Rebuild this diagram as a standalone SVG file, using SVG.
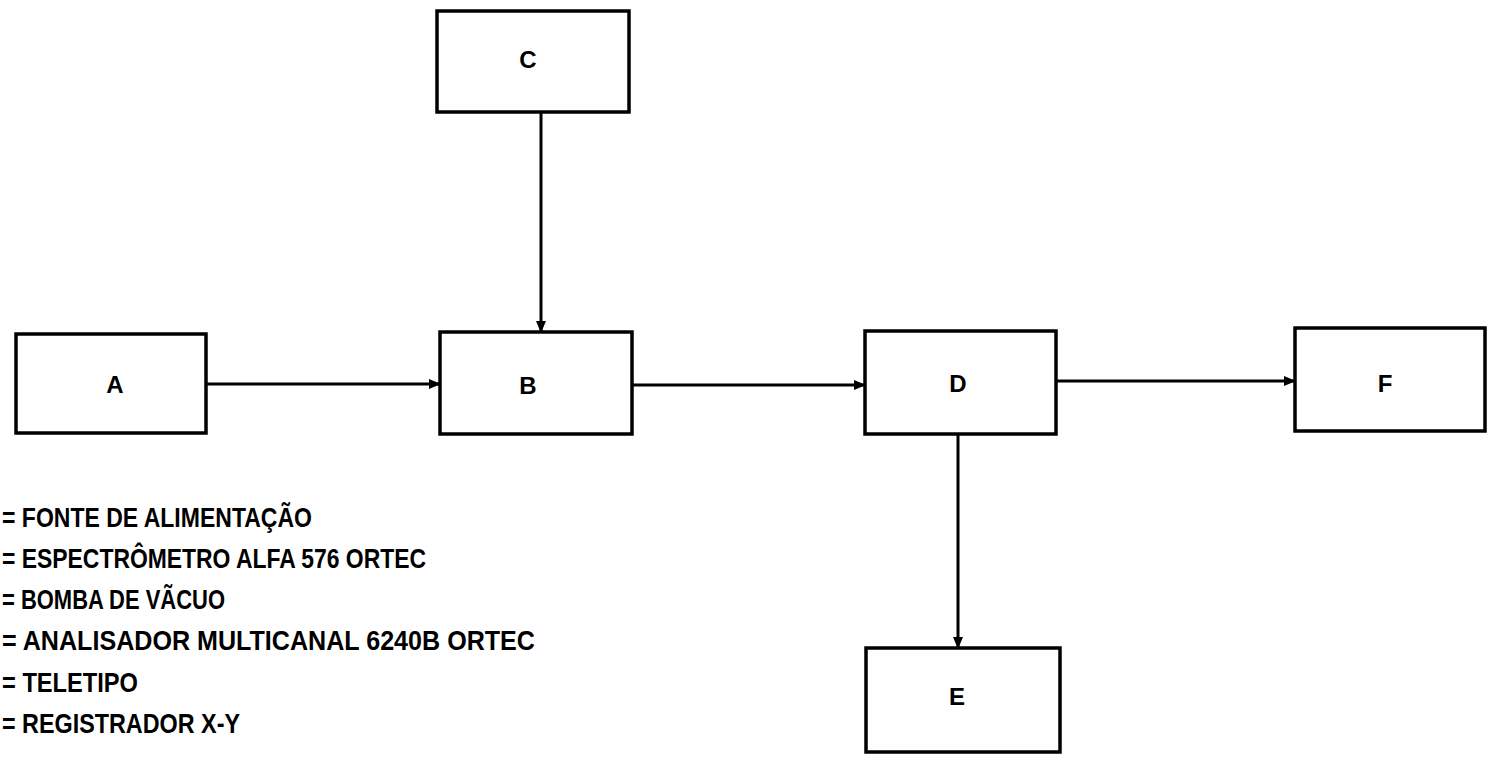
<svg xmlns="http://www.w3.org/2000/svg" width="1488" height="757" viewBox="0 0 1488 757">
<style>
.box{fill:#fff;stroke:#000;stroke-width:3.5}
.lbl{font-family:"Liberation Sans",Arial,sans-serif;font-weight:bold;font-size:24px;text-anchor:middle}
.leg{font-family:"Liberation Sans",Arial,sans-serif;font-weight:bold;font-size:28px}
.con{stroke:#000;stroke-width:3;fill:none;marker-end:url(#ah)}
</style>
<defs>
<marker id="ah" markerWidth="12" markerHeight="10" refX="11" refY="5" orient="auto" markerUnits="userSpaceOnUse">
<path d="M0,0 L12,5 L0,10 Z" fill="#000"/>
</marker>
</defs>
<g id="connectors">
<line class="con" x1="206" y1="384" x2="440" y2="384"/>
<line class="con" x1="632" y1="385" x2="865" y2="385"/>
<line class="con" x1="1056" y1="381" x2="1295" y2="381"/>
<line class="con" x1="541" y1="112" x2="541" y2="332"/>
<line class="con" x1="958" y1="434" x2="958" y2="648"/>
</g>
<g id="A"><rect class="box" x="16" y="334" width="190" height="99"/><text class="lbl" x="115" y="393">A</text></g>
<g id="B"><rect class="box" x="440" y="332" width="192" height="102"/><text class="lbl" x="528" y="394">B</text></g>
<g id="C"><rect class="box" x="437" y="11" width="192" height="101"/><text class="lbl" x="528" y="68">C</text></g>
<g id="D"><rect class="box" x="865" y="331" width="191" height="103"/><text class="lbl" x="958" y="392">D</text></g>
<g id="E"><rect class="box" x="866" y="648" width="194" height="104"/><text class="lbl" x="957" y="705">E</text></g>
<g id="F"><rect class="box" x="1295" y="328" width="190" height="103"/><text class="lbl" x="1385" y="392">F</text></g>
<g id="legend">
<text class="leg" x="2" y="527" textLength="310" lengthAdjust="spacingAndGlyphs">= FONTE DE ALIMENTAÇÃO</text>
<text class="leg" x="2" y="568" textLength="424" lengthAdjust="spacingAndGlyphs">= ESPECTRÔMETRO ALFA 576 ORTEC</text>
<text class="leg" x="2" y="609" textLength="223" lengthAdjust="spacingAndGlyphs">= BOMBA DE VÃCUO</text>
<text class="leg" x="2" y="650" textLength="533" lengthAdjust="spacingAndGlyphs">= ANALISADOR MULTICANAL 6240B ORTEC</text>
<text class="leg" x="2" y="692" textLength="136" lengthAdjust="spacingAndGlyphs">= TELETIPO</text>
<text class="leg" x="2" y="733" textLength="238" lengthAdjust="spacingAndGlyphs">= REGISTRADOR X-Y</text>
</g>
</svg>
